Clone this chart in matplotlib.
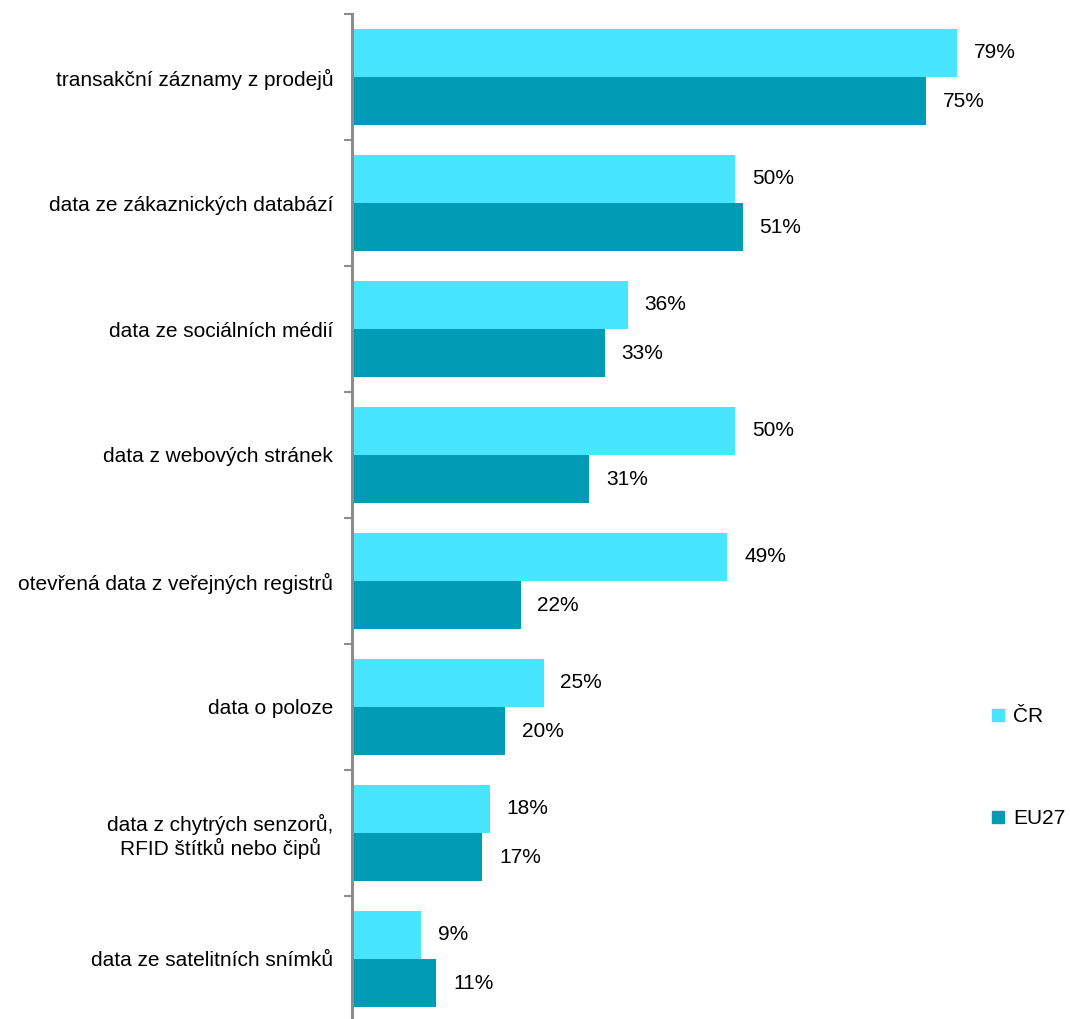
import numpy as np
import matplotlib.pyplot as plt
from matplotlib.lines import Line2D

plt.rcParams['font.family'] = ['Liberation Sans', 'DejaVu Sans']

categories = [
    "transakční záznamy z prodejů",
    "data ze zákaznických databází",
    "data ze sociálních médií",
    "data z webových stránek",
    "otevřená data z veřejných registrů",
    "data o poloze",
    "data z chytrých senzorů,\nRFID štítků nebo čipů",
    "data ze satelitních snímků",
]
cr_values = [79, 50, 36, 50, 49, 25, 18, 9]
eu_values = [75, 51, 33, 31, 22, 20, 17, 11]
series_names = ["ČR", "EU27"]

col_cr = "#47E5FF"
col_eu = "#009CB5"
fs = 15

fig = plt.figure(figsize=(10.70, 10.19), dpi=100)
W, H = 1070, 1019
left, right = 352, 985
top, bottom = 14, 1022
ax = fig.add_axes([left / W, 1 - bottom / H, (right - left) / W, (bottom - top) / H])

n = len(categories)
y = np.arange(n)
bh = 0.381
ax.barh(y - bh / 2, cr_values, height=bh, color=col_cr, label=series_names[0])
ax.barh(y + bh / 2, eu_values, height=bh, color=col_eu, label=series_names[1])

xmax = (right - left) / 7.66
ax.set_xlim(0, xmax)
ax.set_ylim(n - 0.5, -0.5)

for i in range(n):
    ax.text(cr_values[i] + 2.2, y[i] - bh / 2, f"{cr_values[i]}%", va="center", ha="left", fontsize=fs)
    ax.text(eu_values[i] + 2.2, y[i] + bh / 2, f"{eu_values[i]}%", va="center", ha="left", fontsize=fs)

for s in ["top", "right", "bottom"]:
    ax.spines[s].set_visible(False)
ax.spines["left"].set_color("#8C8C8C")
ax.spines["left"].set_linewidth(2.2)

ax.set_xticks([])
ax.set_yticks(np.arange(n + 1) - 0.5)
ax.set_yticklabels([])
ax.tick_params(axis="y", which="major", length=6, width=1.5, color="#8C8C8C")
ax.set_yticks(y, minor=True)
ax.set_yticklabels(categories, minor=True, fontsize=fs, multialignment="center")
ax.tick_params(axis="y", which="minor", length=0, pad=13.5)

handles = [
    Line2D([], [], marker="s", linestyle="none", color=col_cr, markersize=8),
    Line2D([], [], marker="s", linestyle="none", color=col_eu, markersize=8),
]
fig.legend(handles, series_names, loc="upper left", bbox_to_anchor=(988 / W, 1 - 707 / H),
           frameon=False, fontsize=fs, labelspacing=4.0, handletextpad=0.2,
           handlelength=1.0, borderpad=0, borderaxespad=0)

fig.savefig("out.png", dpi=100)
